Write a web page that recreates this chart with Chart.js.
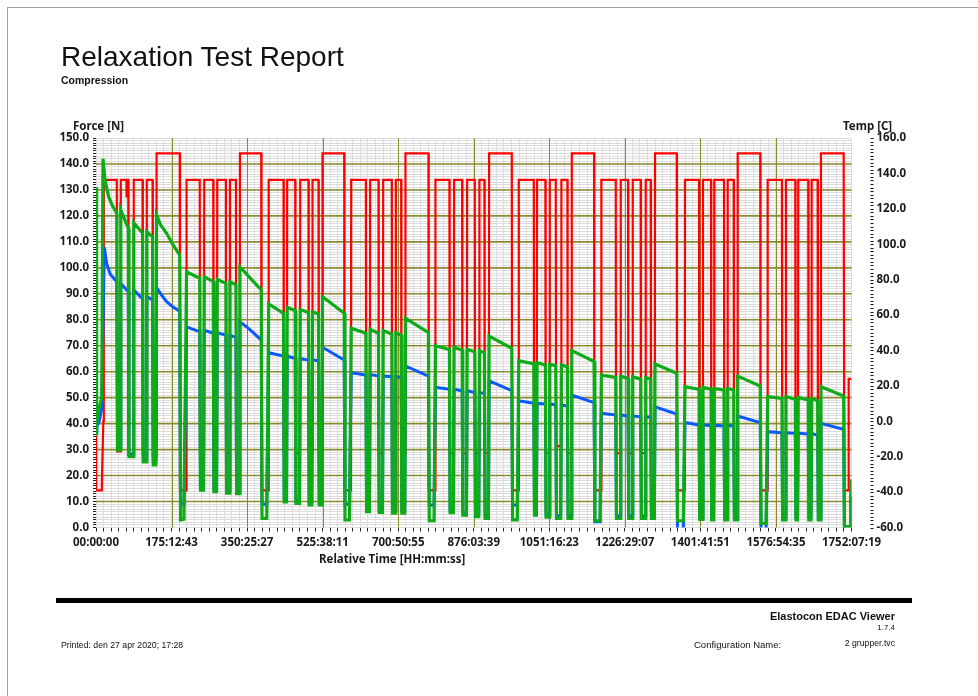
<!DOCTYPE html>
<html>
<head>
<meta charset="utf-8">
<script src="https://cdn.jsdelivr.net/npm/chart.js@4.4.1/dist/chart.umd.min.js"></script>
<style>
  body { margin: 0; width: 978px; height: 696px; overflow: hidden; position: relative; background: #fff; font-family: 'Liberation Sans', Arial, sans-serif; color: #111; }
  #page { position: absolute; left: 7px; top: 7px; width: 978px; height: 696px; border-left: 1px solid #a0a0a0; border-top: 1px solid #a0a0a0; }
  #chart { position: absolute; left: 0; top: 0; }
  .txt { position: absolute; white-space: nowrap; z-index: 2; }
  .axt { font-family: 'Noto Sans', sans-serif; font-weight: bold; font-size: 11.5px; line-height: 12px; color: #1a1a1a; }
  #title { left: 61px; top: 43px; font-size: 28px; line-height: 28px; }
  #sub { left: 61px; top: 75px; font-size: 10.5px; line-height: 11px; font-weight: bold; }
  #bar { position: absolute; left: 56px; top: 598px; width: 856px; height: 5px; background: #000; }
  #app { right: 83px; top: 610px; font-size: 11px; line-height: 12px; font-weight: bold; }
  #ver { right: 83px; top: 623px; font-size: 8px; line-height: 9px; }
  #printed { left: 61px; top: 640px; font-size: 8.7px; line-height: 10px; }
  #cfg { left: 694px; top: 640px; font-size: 9.5px; line-height: 10px; }
  #cfgv { right: 83px; top: 638px; font-size: 8.7px; line-height: 10px; }
</style>
</head>
<body>
<div id="page"></div>
<canvas id="chart" width="978" height="696"></canvas>
<div class="txt" id="title">Relaxation Test Report</div>
<div class="txt" id="sub">Compression</div>
<div class="txt axt" style="left:73px;top:120px">Force [N]</div>
<div class="txt axt" style="left:843px;top:120px">Temp [C]</div>
<div class="txt axt" style="left:319px;top:553px">Relative Time [HH:mm:ss]</div>
<div id="bar"></div>
<div class="txt" id="app">Elastocon EDAC Viewer</div>
<div class="txt" id="ver">1.7.4</div>
<div class="txt" id="printed">Printed: den 27 apr 2020; 17:28</div>
<div class="txt" id="cfg">Configuration Name:</div>
<div class="txt" id="cfgv">2 grupper.tvc</div>
<script>
// time axis in hours, end of the record = 1752:07:19
const timeMax = 1752.122;
const timeTickLabels = ['00:00:00', '175:12:43', '350:25:27', '525:38:11', '700:50:55', '876:03:39',
  '1051:16:23', '1226:29:07', '1401:41:51', '1576:54:35', '1752:07:19'];
const forceTickLabels = ['0.0', '10.0', '20.0', '30.0', '40.0', '50.0', '60.0', '70.0', '80.0',
  '90.0', '100.0', '110.0', '120.0', '130.0', '140.0', '150.0'];
const tempTickValues = [-60, -40, -20, 0, 20, 40, 60, 80, 100, 120, 140, 160];
const tempTickLabels = ['-60.0', '-40.0', '-20.0', '0.0', '20.0', '40.0', '60.0', '80.0',
  '100.0', '120.0', '140.0', '160.0'];

// [hours, N]
const greenForce = [
  [0,36],[0.7,131],[2.1,40],[4.2,44],[13.4,50],[16.2,142],[20.9,133.8],[29.2,127.4],[37.8,124],[48.2,121],
  [50,29.8],[55.9,29.8],[57.5,122.3],[74.9,115.2],[76.5,27.3],[86,27.3],[87.6,117.4],[108,113.3],[109.6,25.3],[116.2,25.3],
  [117.8,113.9],[131.2,112],[132.8,24.1],[138.9,24.1],[140.5,120.3],[150,116.5],[163.7,113.3],[178,109],[194.2,104.9],[196,2.9],[204,3.2],
  [210,98.5],[240.6,96],[242.2,14.4],[249.4,14.4],[251,96.6],[271.9,94.7],[273.5,13.8],[279.6,13.8],[281.2,95.6],[301.3,94],
  [302.9,13.2],[309,13.2],[310.6,94.7],[324.5,93.4],[326.1,13],[332.2,13],[333.8,100.4],[355,96.5],[383.2,91.5],[385,3.5],[396,3.5],
  [400.5,86.1],[434.9,82.5],[436.5,9.9],[441.8,9.9],[443.4,84.8],[462,83.5],[463.6,9.3],[472,9.3],[473.6,84],[492.8,82.7],
  [494.4,8.7],[500.5,8.7],[502.1,83.1],[516,82.2],[517.6,8.7],[523.7,8.7],[525.3,88.9],[575.6,82.5],[577.4,2.9],[588,2.9],
  [591.8,76.7],[625.9,74.8],[627.5,6.1],[634.2,6.1],[635.8,76.3],[655.1,74.8],[656.7,5.8],[664.4,5.8],[666,75.8],[686.1,74.5],
  [687.7,5.5],[693.8,5.5],[695.4,75],[707.7,74.1],[709.3,5.5],[716.1,5.5],[717.7,80.6],[771,75],[772.8,2.6],[784,2.6],
  [787.2,70],[819.6,68.6],[821.2,5.7],[828.9,5.7],[830.5,69.4],[849.1,68.3],[850.7,4.8],[859.1,4.8],[860.7,68.6],[878.5,67.7],
  [880.1,4.2],[887.6,4.2],[889.2,68.1],[900.8,67.3],[902.4,3.5],[910.1,3.5],[911.7,73.7],[964.3,69],[966.1,2.9],[977,2.9],
  [980.5,64.2],[1015.3,63],[1016.9,4.8],[1021.3,4.8],[1022.9,63.5],[1042.2,62.6],[1043.8,4],[1050.8,4],[1052.4,63],[1066.3,62.2],
  [1067.9,3.5],[1077.7,3.5],[1079.3,62.6],[1093.2,61.9],[1094.8,3.5],[1101.8,3.5],[1103.4,68.1],[1155.1,63.9],[1156.9,2.6],[1169,2.6],
  [1172,58.7],[1205.4,57.8],[1207,3.5],[1215.4,3.5],[1217,58.3],[1233.9,57.4],[1235.5,3.5],[1243.2,3.5],[1244.8,58.1],[1263.3,57.1],
  [1264.9,3.5],[1273.3,3.5],[1274.9,57.8],[1286.5,57.1],[1288.1,3.5],[1294.9,3.5],[1296.5,63],[1346.8,59.4],[1348.6,2.6],[1362,2.6],
  [1366,54.2],[1398.5,53.2],[1400.1,3.1],[1406.1,3.1],[1407.7,54],[1426.3,53.2],[1427.9,2.9],[1432.3,2.9],[1433.9,53.6],[1456.4,52.9],
  [1458,2.9],[1463.4,2.9],[1465,53.6],[1478.9,52.9],[1480.5,2.9],[1486.6,2.9],[1488.2,58.3],[1540.5,54.5],[1542.3,1.6],[1554,1.6],
  [1557.7,50.4],[1590.8,49.7],[1592.4,2.9],[1598.5,2.9],[1600.1,50.4],[1621.7,49.4],[1623.3,2.9],[1627,2.9],[1628.6,50.1],[1651.8,49.1],
  [1653.4,2.9],[1658.1,2.9],[1659.7,49.7],[1673.6,48.8],[1675.2,2.9],[1679.7,2.9],[1681.3,54.2],[1733.9,50.6],[1735.7,0.3],[1749.6,0.3],
  [1750.5,18],[1752,18]
];

// [hours, N]
const blueForce = [
  [0,37],[2,39],[7.6,41],[13.4,46],[19.2,108],[24.6,101.7],[33,97.5],[48.2,94.6],[50,30.8],[55.9,30.8],
  [57.5,94],[74.9,90.8],[76.5,28.3],[86,28.3],[87.6,91.5],[108,88],[109.6,26.3],[116.2,26.3],[117.8,88.9],[131.2,87.6],
  [132.8,25.1],[138.9,25.1],[140.5,92.4],[150,90],[163.7,87],[178,85],[194.2,83.3],[196,9],[204,9],
  [210,77.3],[240.6,75.4],[242.2,15.4],[249.4,15.4],[251,76],[271.9,74.8],[273.5,14.8],[279.6,14.8],[281.2,75],[301.3,74.1],
  [302.9,14.2],[309,14.2],[310.6,74.1],[324.5,73.2],[326.1,14],[332.2,14],[333.8,79.2],[355,76.5],[383.2,72.2],[385,9],[396,9],
  [400.5,67.3],[434.9,66],[436.5,10.9],[441.8,10.9],[443.4,66],[462,65.1],[463.6,10.3],[472,10.3],[473.6,65.1],[492.8,64.5],
  [494.4,9.7],[500.5,9.7],[502.1,64.5],[516,64.2],[517.6,9.7],[523.7,9.7],[525.3,69.4],[575.6,64.5],[577.4,9],[588,9],
  [591.8,59.6],[625.9,58.7],[627.5,7.1],[634.2,7.1],[635.8,59],[655.1,58.3],[656.7,6.8],[664.4,6.8],[666,58.3],[686.1,58.1],
  [687.7,6.5],[693.8,6.5],[695.4,58.1],[707.7,57.9],[709.3,6.5],[716.1,6.5],[717.7,62.2],[771,58.3],[772.8,8.7],[784,8.7],
  [787.2,54],[819.6,53.2],[821.2,6.7],[828.9,6.7],[830.5,53.2],[849.1,52.7],[850.7,5.8],[859.1,5.8],[860.7,52.7],[878.5,51.9],
  [880.1,5.2],[887.6,5.2],[889.2,51.9],[900.8,51.7],[902.4,4.5],[910.1,4.5],[911.7,56.5],[964.3,52.7],[966.1,8.7],[977,8.7],
  [980.5,48.8],[1015.3,47.8],[1016.9,5.8],[1021.3,5.8],[1022.9,47.8],[1042.2,47.6],[1043.8,5],[1050.8,5],[1052.4,47.6],[1066.3,47.2],
  [1067.9,4.5],[1077.7,4.5],[1079.3,47.2],[1093.2,46.8],[1094.8,4.5],[1101.8,4.5],[1103.4,51],[1155.1,48.1],[1156.9,2.2],[1169,2.2],
  [1172,44],[1205.4,43.3],[1207,4.5],[1215.4,4.5],[1217,43.3],[1233.9,42.9],[1235.5,4.5],[1243.2,4.5],[1244.8,42.9],[1263.3,42.7],
  [1264.9,4.5],[1273.3,4.5],[1274.9,42.7],[1286.5,42.4],[1288.1,4.5],[1294.9,4.5],[1296.5,46.5],[1346.8,43.7],[1348.6,-2],[1362,-2],
  [1366,40.4],[1398.5,39.5],[1400.1,4],[1406.1,4],[1407.7,39.5],[1426.3,39.3],[1427.9,3.9],[1432.3,3.9],[1433.9,39.3],[1456.4,39.1],
  [1458,3.9],[1463.4,3.9],[1465,39.3],[1478.9,39.1],[1480.5,3.9],[1486.6,3.9],[1488.2,42.9],[1540.5,40.4],[1542.3,-2],[1554,-2],
  [1557.7,36.9],[1590.8,36.5],[1592.4,3.9],[1598.5,3.9],[1600.1,36.5],[1621.7,36.3],[1623.3,3.9],[1627,3.9],[1628.6,36.3],[1651.8,36],
  [1653.4,3.9],[1658.1,3.9],[1659.7,36.2],[1673.6,35.6],[1675.2,3.9],[1679.7,3.9],[1681.3,40.1],[1733.9,37.8],[1735.7,-1],[1749.6,-1],
  [1750.5,12],[1752,12]
];

// [hours, C]
const redTemp = [
  [0,-8],[0.4,-39],[13.4,-39],[14,-31],[17,0],[18.1,136.3],[48.2,136.3],[48.8,-17],[56.9,-17],[57.5,136.3],
  [70.5,136.3],[71,127],[72.5,127],[73,136.3],[74.9,136.3],[75.5,-19],[87,-19],[87.6,136.3],[108,136.3],[108.6,-18],
  [117.2,-18],[117.8,136.3],[131.2,136.3],[131.8,-20],[139.9,-20],[140.5,151.3],[194.2,151.3],[194.8,-39],[209.4,-39],
  [210,136.3],[240.6,136.3],[241.2,-18],[250.4,-18],[251,136.3],[271.9,136.3],[272.5,-18],[280.6,-18],[281.2,136.3],[301.3,136.3],
  [301.9,-18],[310,-18],[310.6,136.3],[324.5,136.3],[325.1,-18],[333.2,-18],[333.8,151.3],[383.2,151.3],[383.8,-39],[399.9,-39],
  [400.5,136.3],[434.9,136.3],[435.5,-18],[442.8,-18],[443.4,136.3],[462,136.3],[462.6,-18],[473,-18],[473.6,136.3],[492.8,136.3],
  [493.4,-18],[501.5,-18],[502.1,136.3],[516,136.3],[516.6,-18],[524.7,-18],[525.3,151.3],[575.6,151.3],[576.2,-39],[591.2,-39],
  [591.8,136.3],[625.9,136.3],[626.5,-18],[635.2,-18],[635.8,136.3],[655.1,136.3],[655.7,-18],[665.4,-18],[666,136.3],[686.1,136.3],
  [686.7,-18],[694.8,-18],[695.4,136.3],[707.7,136.3],[708.3,-18],[717.1,-18],[717.7,151.3],[771,151.3],[771.6,-39],[786.6,-39],
  [787.2,136.3],[819.6,136.3],[820.2,-18],[829.9,-18],[830.5,136.3],[849.1,136.3],[849.7,-18],[860.1,-18],[860.7,136.3],[878.5,136.3],
  [879.1,-18],[888.6,-18],[889.2,136.3],[900.8,136.3],[901.4,-18],[911.1,-18],[911.7,151.3],[964.3,151.3],[964.9,-39],[979.9,-39],
  [980.5,136.3],[1015.3,136.3],[1015.9,-15],[1022.3,-15],[1022.9,136.3],[1042.2,136.3],[1042.8,-18],[1051.8,-18],[1052.4,136.3],[1066.3,136.3],
  [1066.9,-14],[1078.7,-14],[1079.3,136.3],[1093.2,136.3],[1093.8,-18],[1102.8,-18],[1103.4,151.3],[1155.1,151.3],[1155.7,-39],[1171.4,-39],
  [1172,136.3],[1205.4,136.3],[1206,-18],[1216.4,-18],[1217,136.3],[1233.9,136.3],[1234.5,-18],[1244.2,-18],[1244.8,136.3],[1263.3,136.3],
  [1263.9,-18],[1274.3,-18],[1274.9,136.3],[1286.5,136.3],[1287.1,-18],[1295.9,-18],[1296.5,151.3],[1346.8,151.3],[1347.4,-39],[1365.4,-39],
  [1366,136.3],[1398.5,136.3],[1399.1,-18],[1407.1,-18],[1407.7,136.3],[1426.3,136.3],[1426.9,-18],[1433.3,-18],[1433.9,136.3],[1456.4,136.3],
  [1457,-18],[1464.4,-18],[1465,136.3],[1478.9,136.3],[1479.5,-18],[1487.6,-18],[1488.2,151.3],[1540.5,151.3],[1541.1,-39],[1557.1,-39],
  [1557.7,136.3],[1590.8,136.3],[1591.4,-18],[1599.5,-18],[1600.1,136.3],[1621.7,136.3],[1622.3,-18],[1628,-18],[1628.6,136.3],[1651.8,136.3],
  [1652.4,-18],[1659.1,-18],[1659.7,136.3],[1673.6,136.3],[1674.2,-18],[1680.7,-18],[1681.3,151.3],[1733.9,151.3],[1735.5,-39],[1745,-39],
  [1745.6,24],[1752,24]
];

const OLIVE = '#8a8a2c';
const MINOR = '#dcdcdc';
const tickFont = { family: 'Noto Sans', size: 11.5, weight: 'bold' };

function toXY(pairs) {
  return pairs.map(p => ({ x: p[0], y: p[1] }));
}

// major (olive) grid on top of the fine grey one, under the curves
const majorGrid = {
  id: 'majorGrid',
  beforeDatasetsDraw(chart) {
    const { ctx, chartArea: a, scales } = chart;
    ctx.save();
    ctx.strokeStyle = OLIVE;
    ctx.lineWidth = 1;
    for (let i = 1; i < timeTickLabels.length - 1; i++) {
      const x = Math.round(scales.x.getPixelForValue(timeMax * i / 10)) + 0.5;
      ctx.beginPath(); ctx.moveTo(x, a.top); ctx.lineTo(x, a.bottom); ctx.stroke();
    }
    ctx.lineWidth = 1.6;
    for (let i = 1; i < forceTickLabels.length - 1; i++) {
      const y = scales.y.getPixelForValue(i * 10);
      ctx.beginPath(); ctx.moveTo(a.left, y); ctx.lineTo(a.right, y); ctx.stroke();
    }
    ctx.restore();
  }
};

// dotted right axis, set off from the plot like the original report
const tempAxisDots = {
  id: 'tempAxisDots',
  afterDraw(chart) {
    const s = chart.scales.y1;
    const x = chart.chartArea.right + 19;
    const ctx = chart.ctx;
    ctx.save();
    ctx.fillStyle = '#111';
    for (let v = -60; v <= 160; v += 2) {
      ctx.fillRect(x, Math.round(s.getPixelForValue(v)), 3, 1);
    }
    ctx.restore();
  }
};

new Chart(document.getElementById('chart'), {
  type: 'line',
  data: {
    datasets: [
      { label: 'Force 2', data: toXY(greenForce), yAxisID: 'y', borderColor: '#0dab18', borderWidth: 3.2, order: 0 },
      { label: 'Force 1', data: toXY(blueForce), yAxisID: 'y', borderColor: '#0a58ff', borderWidth: 3, order: 1 },
      { label: 'Temp', data: toXY(redTemp), yAxisID: 'y1', borderColor: '#ff0000', borderWidth: 2.2, order: 2 }
    ]
  },
  options: {
    responsive: false,
    animation: false,
    devicePixelRatio: 1,
    elements: { point: { radius: 0 }, line: { tension: 0, fill: false } },
    layout: { padding: { left: 0, right: 0, top: 138, bottom: 0 } },
    plugins: { legend: { display: false }, tooltip: { enabled: false } },
    scales: {
      x: {
        type: 'linear', min: 0, max: timeMax,
        afterBuildTicks: s => { s.ticks = []; for (let i = 0; i <= 100; i++) s.ticks.push({ value: timeMax * i / 100 }); },
        afterFit: s => { s.height = 168.5; },
        border: { display: false },
        grid: { color: MINOR, lineWidth: 1, drawTicks: true, tickLength: 4, tickColor: '#222' },
        ticks: {
          autoSkip: false, maxRotation: 0, minRotation: 0, padding: 4, color: '#1a1a1a', font: tickFont,
          callback: (v, i) => i % 10 === 0 ? timeTickLabels[i / 10] : ''
        }
      },
      y: {
        position: 'left', min: 0, max: 150,
        afterBuildTicks: s => { s.ticks = []; for (let i = 0; i <= 150; i++) s.ticks.push({ value: i }); },
        afterFit: s => { s.width = 96; },
        border: { display: false },
        grid: { color: MINOR, lineWidth: 1, drawTicks: true, tickLength: 3, tickColor: '#222' },
        ticks: {
          autoSkip: false, padding: 4, color: '#1a1a1a', font: tickFont,
          callback: (v, i) => i % 10 === 0 ? forceTickLabels[i / 10] : ''
        }
      },
      y1: {
        position: 'right', min: -60, max: 160,
        afterBuildTicks: s => { s.ticks = tempTickValues.map(v => ({ value: v })); },
        afterFit: s => { s.width = 126.5; },
        border: { display: false },
        grid: { drawOnChartArea: false, drawTicks: false },
        ticks: {
          autoSkip: false, padding: 25, color: '#1a1a1a', font: tickFont,
          callback: (v, i) => tempTickLabels[i]
        }
      }
    }
  },
  plugins: [majorGrid, tempAxisDots]
});
</script>
</body>
</html>
